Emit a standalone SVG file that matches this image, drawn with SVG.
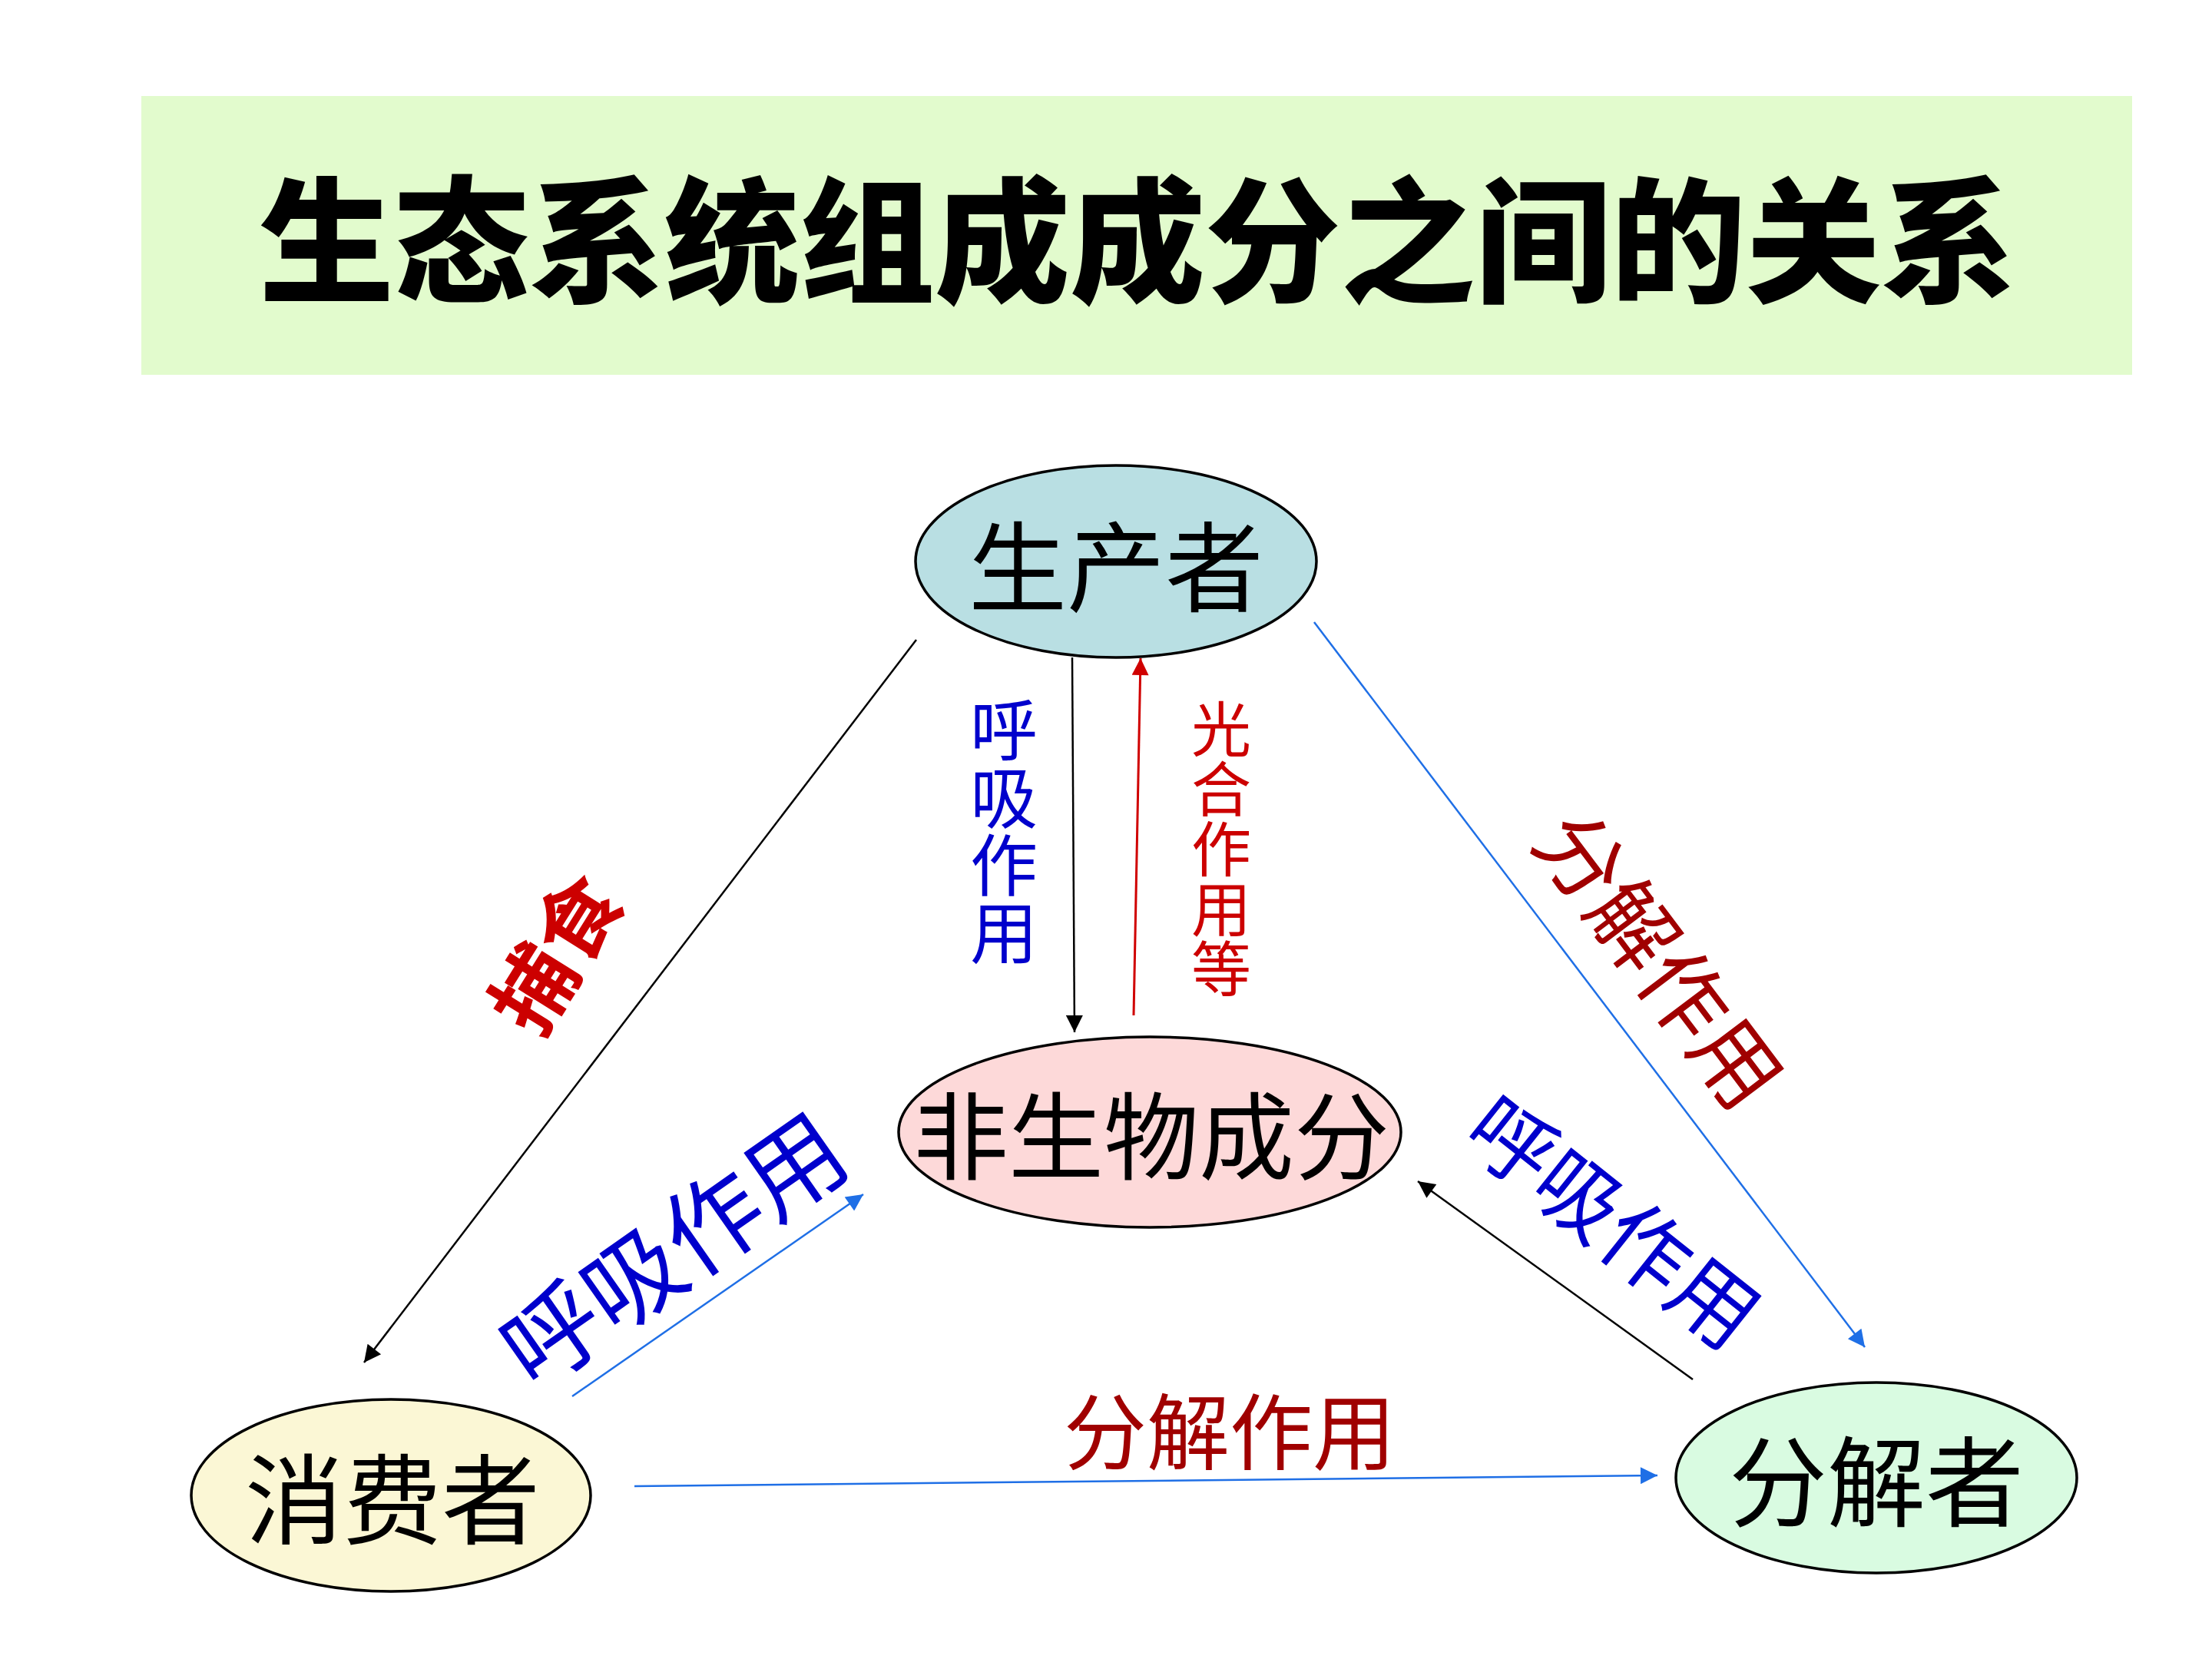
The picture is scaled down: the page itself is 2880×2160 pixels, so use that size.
<svg xmlns="http://www.w3.org/2000/svg" width="2880" height="2160" viewBox="0 0 2880 2160">
<style>
.node{stroke:#000;stroke-width:3.5}
.nt{font-family:"Noto Sans CJK SC","Noto Sans CJK TC",sans-serif;font-size:128px;fill:#000;text-anchor:middle;dominant-baseline:central}
.lbl{font-family:"Noto Sans CJK SC","Noto Sans CJK TC",sans-serif;text-anchor:middle;dominant-baseline:central}
.blk{stroke:#000;stroke-width:2.5;fill:none}
.blu{stroke:#1f6fe6;stroke-width:2.5;fill:none}
.red{stroke:#d00000;stroke-width:3;fill:none}
</style>
<defs>
<marker id="ab" viewBox="0 0 10 10" refX="10" refY="5" markerWidth="24" markerHeight="22" markerUnits="userSpaceOnUse" orient="auto"><path d="M0,0 L10,5 L0,10 z" fill="#000"/></marker>
<marker id="au" viewBox="0 0 10 10" refX="10" refY="5" markerWidth="24" markerHeight="22" markerUnits="userSpaceOnUse" orient="auto"><path d="M0,0 L10,5 L0,10 z" fill="#1f6fe6"/></marker>
<marker id="ar" viewBox="0 0 10 10" refX="10" refY="5" markerWidth="24" markerHeight="22" markerUnits="userSpaceOnUse" orient="auto"><path d="M0,0 L10,5 L0,10 z" fill="#d00000"/></marker>
</defs>
<rect width="2880" height="2160" fill="#fff"/>
<g id="title">
<rect x="184" y="125" width="2592" height="363" fill="#e2fbcd"/>
<text x="1481" y="303" font-family="'Noto Sans CJK SC','Noto Sans CJK TC',sans-serif" font-size="176" font-weight="900" fill="#000" text-anchor="middle" dominant-baseline="central">生态系统组成成分之间的关系</text>
</g>
<g id="connectors">
<line class="blk" x1="1193" y1="833" x2="474" y2="1774" marker-end="url(#ab)"/>
<line class="blk" x1="1396" y1="856" x2="1399" y2="1344" marker-end="url(#ab)"/>
<line class="red" x1="1476" y1="1322" x2="1485" y2="857" marker-end="url(#ar)"/>
<line class="blu" x1="1711" y1="810" x2="2428" y2="1754" marker-end="url(#au)"/>
<line class="blk" x1="2204" y1="1796" x2="1846" y2="1538" marker-end="url(#ab)"/>
<line class="blu" x1="745" y1="1818" x2="1124" y2="1555" marker-end="url(#au)"/>
<line class="blu" x1="826" y1="1935" x2="2158" y2="1921" stroke-width="4" marker-end="url(#au)"/>
</g>
<g id="labels">
<text class="lbl" x="1307" y="1082" font-size="88" fill="#0000cc" writing-mode="tb">呼吸作用</text>
<text class="lbl" x="1590" y="1105" font-size="78" fill="#cc0000" writing-mode="tb">光合作用等</text>
<text class="lbl" x="0" y="0" font-size="108" font-weight="bold" fill="#cc0000" transform="translate(718,1238) rotate(-58)">捕食</text>
<text class="lbl" x="0" y="0" font-size="128" fill="#0000cc" transform="translate(872,1621) rotate(-35)">呼吸作用</text>
<text class="lbl" x="0" y="0" font-size="112" fill="#a00000" transform="translate(2166,1245) rotate(53)">分解作用</text>
<text class="lbl" x="0" y="0" font-size="112" fill="#0000cc" transform="translate(2105,1585) rotate(38.5)">呼吸作用</text>
<text class="lbl" x="1601" y="1858" font-size="108" fill="#a00000">分解作用</text>
</g>
<g id="producer">
<ellipse class="node" cx="1453" cy="731" rx="261" ry="125" fill="#b9dfe3"/>
<text class="nt" x="1453" y="731">生产者</text>
</g>
<g id="abiotic">
<ellipse class="node" cx="1497" cy="1474" rx="327" ry="124" fill="#fdd9d9"/>
<text class="nt" x="1499" y="1472" style="font-size:124px">非生物成分</text>
</g>
<g id="consumer">
<ellipse class="node" cx="509" cy="1947" rx="260" ry="125" fill="#fbf7d5"/>
<text class="nt" x="511" y="1945">消费者</text>
</g>
<g id="decomposer">
<ellipse class="node" cx="2443" cy="1924" rx="261" ry="124" fill="#d9fbe1"/>
<text class="nt" x="2443" y="1922">分解者</text>
</g>
</svg>
